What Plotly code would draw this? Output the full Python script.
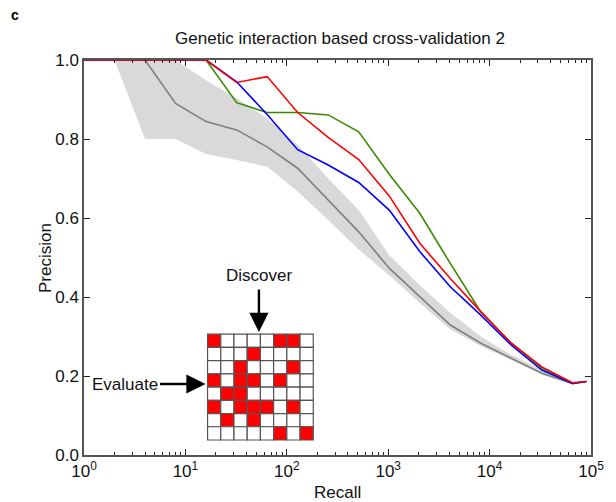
import plotly.graph_objects as go

# ---------------- data ----------------
recall = [1, 2, 4, 8, 16, 32, 64, 128, 256, 512, 1024, 2048, 4096, 8192,
          16384, 32768, 65536, 90000]

random_mean = [1.0, 1.0, 1.0, 0.89, 0.844, 0.823, 0.78, 0.726, 0.646, 0.565,
               0.473, 0.40, 0.329, 0.283, 0.245, 0.207, 0.181, 0.186]
random_upper = [1.0, 1.0, 1.0, 1.0, 0.949, 0.903, 0.852, 0.785, 0.70, 0.62,
                0.506, 0.43, 0.36, 0.30, 0.253, 0.215, 0.183, 0.187]
random_lower = [1.0, 1.0, 0.80, 0.80, 0.762, 0.747, 0.73, 0.667, 0.595, 0.52,
                0.455, 0.385, 0.318, 0.276, 0.24, 0.203, 0.178, 0.184]

green_prec = [1.0, 1.0, 1.0, 1.0, 1.0, 0.892, 0.867, 0.867, 0.861, 0.818,
              0.711, 0.612, 0.485, 0.362, 0.283, 0.22, 0.181, 0.186]
blue_prec = [1.0, 1.0, 1.0, 1.0, 1.0, 0.945, 0.862, 0.773, 0.734, 0.69,
             0.62, 0.515, 0.426, 0.354, 0.278, 0.215, 0.181, 0.186]
red_prec = [1.0, 1.0, 1.0, 1.0, 1.0, 0.943, 0.958, 0.867, 0.804, 0.748,
            0.656, 0.536, 0.447, 0.363, 0.283, 0.223, 0.183, 0.186]

x_tickvals = [1, 10, 100, 1000, 10000, 100000]
x_ticktext = ["10<sup>0</sup>", "10<sup>1</sup>", "10<sup>2</sup>",
              "10<sup>3</sup>", "10<sup>4</sup>", "10<sup>5</sup>"]
y_tickvals = [0.0, 0.2, 0.4, 0.6, 0.8, 1.0]

# inset schematic matrix (1 = red)
inset_grid = [
    [1, 0, 0, 0, 0, 1, 1, 0],
    [0, 0, 0, 1, 0, 0, 0, 0],
    [0, 0, 1, 0, 0, 0, 1, 0],
    [1, 0, 1, 1, 0, 1, 0, 0],
    [0, 1, 1, 0, 0, 0, 0, 0],
    [1, 0, 1, 1, 1, 0, 1, 0],
    [0, 1, 0, 1, 0, 0, 0, 0],
    [0, 0, 0, 0, 0, 1, 0, 1],
]

FONT = "Liberation Sans, Arial, sans-serif"

fig = go.Figure()

# random band
fig.add_trace(go.Scatter(x=recall, y=random_upper, mode="lines",
                         line=dict(width=0, color="#d9d9d9"),
                         hoverinfo="skip", showlegend=False))
fig.add_trace(go.Scatter(x=recall, y=random_lower, mode="lines",
                         line=dict(width=0, color="#d9d9d9"),
                         fill="tonexty", fillcolor="#d9d9d9",
                         hoverinfo="skip", showlegend=False))
fig.add_trace(go.Scatter(x=recall, y=random_mean, mode="lines",
                         line=dict(width=1.6, color="#7f7f7f"),
                         showlegend=False))
fig.add_trace(go.Scatter(x=recall, y=green_prec, mode="lines",
                         line=dict(width=1.6, color="#3a8a00"),
                         showlegend=False))
fig.add_trace(go.Scatter(x=recall, y=blue_prec, mode="lines",
                         line=dict(width=1.6, color="#0000ff"),
                         showlegend=False))
fig.add_trace(go.Scatter(x=recall, y=red_prec, mode="lines",
                         line=dict(width=1.6, color="#ff0000"),
                         showlegend=False))

# minor ticks 2..9 per decade
minor_vals = [m * 10 ** d for d in range(0, 5) for m in range(2, 10)]

fig.update_xaxes(type="log", range=[0, 5], tickvals=x_tickvals, ticktext=x_ticktext,
                 ticks="inside", ticklen=6, tickcolor="#222", showgrid=False,
                 zeroline=False, showline=True, linecolor="#555", linewidth=1.5,
                 mirror="ticks",
                 minor=dict(ticks="inside", ticklen=3, tickvals=minor_vals,
                            tickcolor="#222", showgrid=False),
                 tickfont=dict(family=FONT, size=17, color="#111"))
fig.update_yaxes(range=[0, 1], tickvals=y_tickvals, tickformat=".1f",
                 ticks="inside", ticklen=6, tickcolor="#222", showgrid=False,
                 zeroline=False, showline=True, linecolor="#555", linewidth=1.5,
                 mirror="ticks",
                 tickfont=dict(family=FONT, size=17, color="#111"))

# inset grid drawn as shapes in paper coordinates
gx0, gx1 = 0.2437, 0.4522
gy0, gy1 = 0.038, 0.306
n = len(inset_grid)
cw = (gx1 - gx0) / n
ch = (gy1 - gy0) / n
shapes = []
for r, row in enumerate(inset_grid):
    for c, v in enumerate(row):
        shapes.append(dict(type="rect", xref="paper", yref="paper",
                           x0=gx0 + c * cw, x1=gx0 + (c + 1) * cw,
                           y0=gy1 - (r + 1) * ch, y1=gy1 - r * ch,
                           fillcolor="#ff0000" if v else "#ffffff",
                           line=dict(color="#555", width=1.2), layer="above"))
fig.update_layout(shapes=shapes)

annotations = [
    dict(text="<b>c</b>", xref="paper", yref="paper", x=-0.136, y=1.114,
         xanchor="center", yanchor="middle",
         showarrow=False, font=dict(family=FONT, size=14, color="#000")),
    dict(text="Precision", xref="paper", yref="paper", x=-0.076, y=0.5,
         xanchor="center", yanchor="middle",
         textangle=-90, showarrow=False, font=dict(family=FONT, size=17, color="#111")),
    dict(text="Recall", xref="paper", yref="paper", x=0.5, y=-0.094,
         xanchor="center", yanchor="middle",
         showarrow=False, font=dict(family=FONT, size=17, color="#111")),
    dict(text="Discover", xref="paper", yref="paper", x=(261 - 84) / 513,
         y=(455 - 275) / 395, xanchor="center", yanchor="middle", showarrow=False,
         font=dict(family=FONT, size=17, color="#111")),
    dict(text="Evaluate", xref="paper", yref="paper", x=(125 - 84) / 513,
         y=(455 - 384) / 395, xanchor="center", yanchor="middle", showarrow=False,
         font=dict(family=FONT, size=17, color="#111")),
    # arrows
    dict(text="", xref="paper", yref="paper", x=(261 - 84) / 513,
         y=(455 - 332) / 395, ax=0, ay=-44, showarrow=True, arrowhead=2,
         arrowsize=1.6, arrowwidth=2.4, arrowcolor="#000"),
    dict(text="", xref="paper", yref="paper", x=(207 - 84) / 513,
         y=(455 - 384) / 395, ax=-47, ay=0, showarrow=True, arrowhead=2,
         arrowsize=1.6, arrowwidth=2.4, arrowcolor="#000"),
]
fig.update_layout(annotations=annotations)

fig.update_layout(
    width=616, height=502,
    margin=dict(l=84, r=19, t=60, b=47),
    paper_bgcolor="white", plot_bgcolor="white",
    title=dict(text="Genetic interaction based cross-validation 2",
               x=340 / 616, xanchor="center", y=1 - 38 / 502, yanchor="middle",
               font=dict(family=FONT, size=17, color="#111")),
    showlegend=False,
)

fig.write_html("out.html")
